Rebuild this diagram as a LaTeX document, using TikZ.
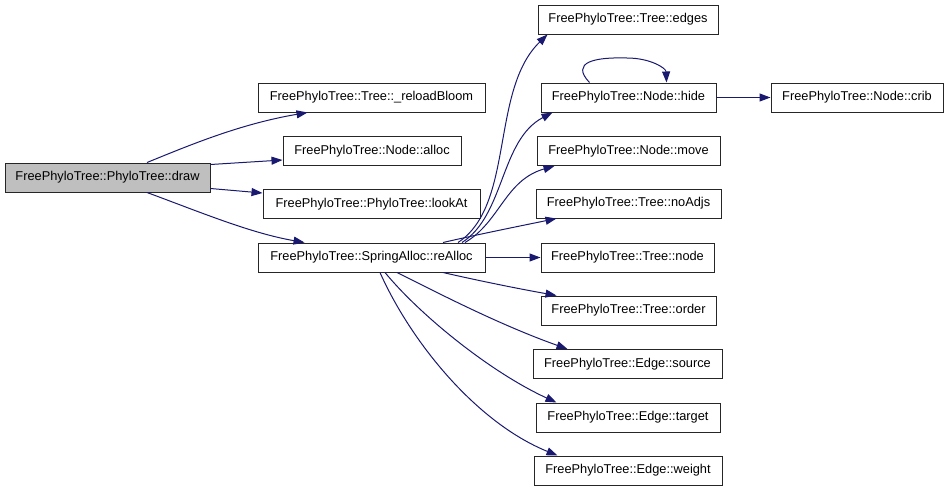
\documentclass[tikz,border=0pt]{standalone}
\usepackage{fontspec}
\setmainfont{Liberation Sans}
\usetikzlibrary{arrows.meta}
\definecolor{edgeblue}{HTML}{191970}
\definecolor{boxgray}{HTML}{BFBFBF}
\tikzset{
  fn/.style={draw=black!85, line width=1pt, minimum height=29pt, inner sep=0pt, font=\fontsize{12.8}{15}\selectfont, fill=white},
  cur/.style={fn, fill=boxgray},
  call/.style={draw=edgeblue, line width=1pt, -{Triangle[length=11pt,width=8pt]}}
}
\begin{document}
\begin{tikzpicture}[x=1pt,y=1pt]
\useasboundingbox (0,0) rectangle (949,-491);
\node[cur, minimum width=205pt] (draw) at (107.5,-177.5) {FreePhyloTree::PhyloTree::draw};
\node[fn, minimum width=227pt] (bloom) at (371.5,-97.5) {FreePhyloTree::Tree::\_reloadBloom};
\node[fn, minimum width=178pt] (alloc) at (372,-151) {FreePhyloTree::Node::alloc};
\node[fn, minimum width=217pt] (lookat) at (371.5,-204) {FreePhyloTree::PhyloTree::lookAt};
\node[fn, minimum width=227pt] (realloc) at (371.5,-257.5) {FreePhyloTree::SpringAlloc::reAlloc};
\node[fn, minimum width=180pt] (edges) at (628,-19.5) {FreePhyloTree::Tree::edges};
\node[fn, minimum width=175pt] (hide) at (628.5,-97.5) {FreePhyloTree::Node::hide};
\node[fn, minimum width=183pt] (move) at (628.5,-151) {FreePhyloTree::Node::move};
\node[fn, minimum width=185pt] (noadjs) at (628.5,-203.5) {FreePhyloTree::Tree::noAdjs};
\node[fn, minimum width=173pt] (tnode) at (627.5,-257.5) {FreePhyloTree::Tree::node};
\node[fn, minimum width=175pt] (order) at (628.5,-310.5) {FreePhyloTree::Tree::order};
\node[fn, minimum width=189pt] (source) at (627.5,-364) {FreePhyloTree::Edge::source};
\node[fn, minimum width=184pt] (target) at (628,-417.5) {FreePhyloTree::Edge::target};
\node[fn, minimum width=188pt] (weight) at (628,-470.5) {FreePhyloTree::Edge::weight};
\node[fn, minimum width=172pt] (crib) at (857,-97.5) {FreePhyloTree::Node::crib};

% from draw
\draw[call] ([xshift=39.5pt]draw.north) .. controls (190,-145) and (240,-124) .. ([xshift=50pt]bloom.south west);
\draw[call] ([yshift=-2pt]draw.north east) -- ([yshift=-9pt]alloc.west);
\draw[call] ([yshift=4pt]draw.south east) -- ([yshift=11pt]lookat.west);
\draw[call] ([xshift=39.5pt]draw.south) .. controls (200,-212) and (250,-233) .. ([xshift=47pt]realloc.north west);

% from reAlloc
\draw[call] ([xshift=86.5pt]realloc.north) .. controls (515,-205) and (490,-90) .. ([xshift=10pt]edges.south west);
\draw[call] ([xshift=90.5pt]realloc.north) .. controls (505,-215) and (500,-140) .. ([xshift=12pt]hide.south west);
\draw[call] ([xshift=93.5pt]realloc.north) .. controls (500,-222) and (505,-180) .. ([xshift=18pt]move.south west);
\draw[call] ([xshift=71.5pt]realloc.north) .. controls (480,-234) and (520,-226) .. ([xshift=21pt]noadjs.south west);
\draw[call] (realloc.east) -- (tnode.west);
\draw[call] ([xshift=71.5pt]realloc.south) .. controls (480,-281) and (520,-289) .. ([xshift=16pt]order.north west);
\draw[call] ([xshift=25.5pt]realloc.south) .. controls (440,-294) and (500,-325) .. ([xshift=35pt]source.north west);
\draw[call] ([xshift=13.5pt]realloc.south) .. controls (420,-315) and (490,-372) .. ([xshift=21pt]target.north west);
\draw[call] ([xshift=8.5pt]realloc.south) .. controls (410,-340) and (475,-422) .. ([xshift=24pt]weight.north west);

% from hide
\draw[call] ([xshift=49pt]hide.north west) .. controls (570,-62) and (595,-57) .. (627,-58) .. controls (650,-58) and (666,-68) .. ([xshift=126pt]hide.north west);
\draw[call] (hide.east) -- (crib.west);
\end{tikzpicture}
\end{document}
